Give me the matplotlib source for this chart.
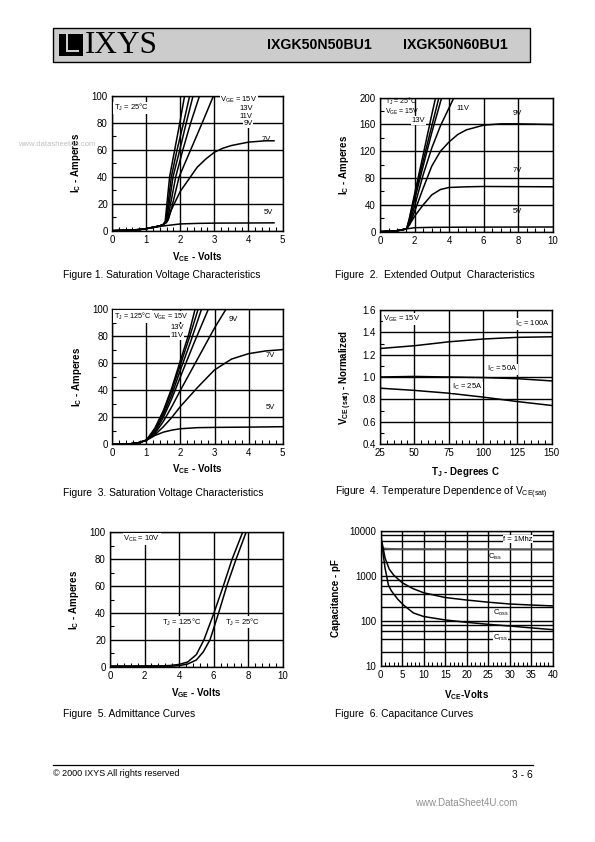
import matplotlib
matplotlib.use("Agg")
import matplotlib.pyplot as plt
from matplotlib.patches import Rectangle
from matplotlib.ticker import MultipleLocator, LogLocator, NullFormatter, FixedLocator
import numpy as np

plt.rcParams['font.family'] = ['Liberation Sans', 'DejaVu Sans']
plt.rcParams['mathtext.fontset'] = 'custom'
plt.rcParams['mathtext.rm'] = 'Liberation Sans'
plt.rcParams['mathtext.bf'] = 'Liberation Sans:bold'
plt.rcParams['mathtext.it'] = 'Liberation Sans:italic'
plt.rcParams['mathtext.default'] = 'regular'

W, H = 595, 842

# ---- Figure 1: saturation voltage, Tj = 25C (x: V_CE, y: I_C) ----
f1_steep = [
    ([0, 0.5, 0.8, 1.0, 1.2, 1.4, 1.5, 1.56, 1.69, 1.84, 1.99, 2.13], [0, 0.3, 0.8, 1.5, 2.5, 3.5, 4.5, 7, 40, 60, 80, 100]),
    ([0, 0.5, 0.8, 1.0, 1.2, 1.4, 1.5, 1.58, 1.74, 1.91, 2.10, 2.28], [0, 0.3, 0.8, 1.5, 2.5, 3.5, 4.5, 7, 40, 60, 80, 100]),
    ([0, 0.5, 0.8, 1.0, 1.2, 1.4, 1.5, 1.60, 1.79, 1.99, 2.18, 2.38], [0, 0.3, 0.8, 1.5, 2.5, 3.5, 4.5, 7, 40, 60, 80, 100]),
    ([0, 0.5, 0.8, 1.0, 1.2, 1.4, 1.5, 1.62, 1.87, 2.08, 2.31, 2.57], [0, 0.3, 0.8, 1.5, 2.5, 3.5, 4.5, 7, 40, 60, 80, 100]),
    ([0, 0.5, 0.8, 1.0, 1.2, 1.4, 1.5, 1.65, 1.75, 1.97, 2.31, 2.65, 2.98], [0, 0.3, 0.8, 1.5, 2.5, 3.5, 4.5, 8, 17, 40, 60, 80, 100]),
]
f1_7v_x = [0, 0.5, 0.8, 1.0, 1.2, 1.4, 1.5, 1.6, 1.75, 2.0, 2.25, 2.5, 2.75, 3.0, 3.25, 3.5, 4.0, 4.5, 4.75]
f1_7v_y = [0, 0.3, 0.8, 1.5, 2.5, 3.5, 4.5, 6, 16, 29, 38, 47, 53, 58, 61, 63, 65.5, 66.5, 66.5]
f1_5v_x = [0, 0.5, 1.0, 1.5, 2.0, 2.5, 3.0, 4.0, 4.75]
f1_5v_y = [0, 0.3, 1.5, 3.5, 5.0, 5.4, 5.6, 5.7, 5.8]

# ---- Figure 2: extended output, Tj = 25C ----
f2_steep = [
    ([0, 0.5, 1.0, 1.5, 1.55, 1.7, 2.0, 2.5, 3.0, 3.22], [0, 0.5, 1.5, 4, 5, 20, 56, 115, 175, 200]),
    ([0, 0.5, 1.0, 1.5, 1.55, 1.7, 2.0, 2.5, 3.0, 3.41], [0, 0.5, 1.5, 4, 5, 18, 52, 106, 158, 200]),
    ([0, 0.5, 1.0, 1.5, 1.57, 1.75, 2.0, 2.5, 3.0, 3.57], [0, 0.5, 1.5, 4, 5, 20, 47, 98, 148, 200]),
    ([0, 0.5, 1.0, 1.5, 1.6, 1.8, 2.0, 2.5, 3.0, 3.5, 4.28], [0, 0.5, 1.5, 4, 6, 20, 38, 85, 125, 158, 200]),
]
f2_9v_x = [0, 0.5, 1.0, 1.5, 1.7, 2.0, 2.5, 3.0, 3.5, 4.0, 4.5, 5.0, 6.0, 7.0, 8.0, 10.0]
f2_9v_y = [0, 0.5, 1.5, 4, 10, 30, 65, 98, 120, 134, 145, 152, 159, 161, 161, 160]
f2_7v_x = [0, 0.5, 1.0, 1.5, 1.7, 2.0, 2.5, 3.0, 3.5, 4.0, 5.0, 6.0, 10.0]
f2_7v_y = [0, 0.5, 1.5, 4, 10, 23, 40, 55, 63, 66, 67, 67.5, 67]
f2_5v_x = [0, 0.5, 1.0, 1.5, 2.0, 3.0, 5.0, 10.0]
f2_5v_y = [0, 0.5, 1.5, 4, 6, 6.5, 6.8, 7]

# ---- Figure 3: saturation voltage, Tj = 125C ----
f3_steep = [
    ([0, 0.5, 0.75, 1.0, 1.25, 1.5, 1.75, 2.0, 2.25, 2.43], [0, 0.3, 1, 3, 12, 25, 42, 62, 82, 100]),
    ([0, 0.5, 0.75, 1.0, 1.25, 1.5, 1.75, 2.0, 2.25, 2.52], [0, 0.3, 1, 3, 11, 24, 40, 59, 78, 100]),
    ([0, 0.5, 0.75, 1.0, 1.25, 1.5, 1.75, 2.0, 2.3, 2.62], [0, 0.3, 1, 3, 10, 22, 37, 55, 76, 100]),
    ([0, 0.5, 0.75, 1.0, 1.25, 1.5, 1.75, 2.0, 2.4, 2.82], [0, 0.3, 1, 3, 9, 20, 34, 50, 75, 100]),
    ([0, 0.5, 0.75, 1.0, 1.25, 1.5, 1.75, 2.0, 2.5, 3.0, 3.34], [0, 0.3, 1, 3, 8, 17, 28, 40, 63, 86, 100]),
]
f3_7v_x = [0, 0.5, 0.75, 1.0, 1.25, 1.5, 1.75, 2.0, 2.5, 3.0, 3.5, 4.0, 4.5, 5.0]
f3_7v_y = [0, 0.3, 1, 3, 7, 13, 20, 28, 42, 55, 63, 67, 69, 70]
f3_5v_x = [0, 0.5, 0.75, 1.0, 1.25, 1.5, 1.75, 2.0, 2.5, 3.0, 4.0, 5.0]
f3_5v_y = [0, 0.3, 1, 3, 6.5, 9, 10.5, 11.5, 12.3, 12.5, 12.7, 13]

# ---- Figure 4: V_CE(sat) normalized vs Tj ----
f4_tj = [25, 50, 75, 100, 125, 150]
f4_100a = [1.255, 1.28, 1.315, 1.34, 1.355, 1.36]
f4_50a = [1.0, 1.005, 1.0, 0.995, 0.985, 0.965]
f4_25a = [0.9, 0.88, 0.855, 0.82, 0.78, 0.745]

# ---- Figure 5: admittance curves ----
f5_125_x = [0, 3.0, 3.5, 4.0, 4.5, 5.0, 5.44, 6.02, 6.56, 7.07, 7.68]
f5_125_y = [0.5, 0.6, 0.9, 1.7, 3.5, 9, 20, 40, 60, 80, 100]
f5_25_x = [0, 3.5, 4.0, 4.5, 5.0, 5.4, 5.79, 6.29, 6.76, 7.3, 7.88]
f5_25_y = [0.3, 0.4, 0.8, 2.0, 5.0, 11, 20, 40, 60, 80, 100]

# ---- Figure 6: capacitance curves ----
f6_ciss_x = [0, 1, 2, 5, 10, 20, 40]
f6_ciss_y = [4300, 4000, 3950, 3900, 3900, 3880, 3850]
f6_coss_x = [0, 0.5, 1, 2, 3, 5, 7.5, 10, 15, 20, 25, 30, 35, 40]
f6_coss_y = [7500, 4500, 2500, 1400, 1040, 700, 520, 420, 330, 290, 260, 237, 225, 215]
f6_crss_x = [0, 0.5, 1, 1.8, 2.5, 4, 5.3, 7.6, 10, 15, 20, 25, 30, 35, 40]
f6_crss_y = [7500, 3500, 1500, 620, 460, 300, 225, 150, 125, 105, 93, 84, 77, 70, 64]

LW = 1.1
SMALL = 5.5


def px_axes(fig, left, top, right, bottom):
    return fig.add_axes([left / W, 1 - bottom / H, (right - left) / W, (bottom - top) / H])


def style(ax, xmaj, xmin, ymaj, ymin, log=False):
    ax.xaxis.set_major_locator(MultipleLocator(xmaj))
    ax.xaxis.set_minor_locator(MultipleLocator(xmin))
    if not log:
        ax.yaxis.set_major_locator(MultipleLocator(ymaj))
        ax.yaxis.set_minor_locator(MultipleLocator(ymin))
    ax.grid(True, which='major', color='black', linewidth=1.0)
    ax.tick_params(which='both', direction='in', labelsize=7)
    ax.tick_params(which='major', length=0, pad=3)
    ax.tick_params(which='minor', length=3, width=0.8)
    for s in ax.spines.values():
        s.set_linewidth(1.0)
    ax.set_axisbelow(True)


def lbl(ax, x, y, s, box=False, size=SMALL, **kw):
    bb = dict(facecolor='white', edgecolor='none', pad=0.4) if box else None
    ax.text(x, y, s, fontsize=size, va='center', ha='left', bbox=bb, **kw)


fig = plt.figure(figsize=(W / 100, H / 100), dpi=100)

# header
fig.patches.append(Rectangle((53 / W, 1 - 62 / H), (530 - 53) / W, 34 / H, transform=fig.transFigure,
                             facecolor='#cccccc', edgecolor='black', linewidth=1.0))
fig.patches.append(Rectangle((59 / W, 1 - 56 / H), 24 / W, 22 / H, transform=fig.transFigure,
                             facecolor='black', edgecolor='none'))
fig.patches.append(Rectangle((66 / W, 1 - 52 / H), 2.2 / W, 18 / H, transform=fig.transFigure,
                             facecolor='#cccccc', edgecolor='none'))
fig.patches.append(Rectangle((66 / W, 1 - 52 / H), 13 / W, 2.2 / H, transform=fig.transFigure,
                             facecolor='#cccccc', edgecolor='none'))
fig.text(85 / W, 1 - 45.5 / H, 'IXYS', family='Liberation Serif', fontsize=22.5, va='center', ha='left')
fig.text(267 / W, 1 - 45 / H, 'IXGK50N50BU1', fontsize=10.2, fontweight='bold', va='center', ha='left')
fig.text(403 / W, 1 - 45 / H, 'IXGK50N60BU1', fontsize=10.2, fontweight='bold', va='center', ha='left')

# watermark
fig.text(18 / W, 1 - 145 / H, 'www.datasheet4u.com', fontsize=5.5, color='#c0c0c0', va='center', ha='left',
         zorder=0)

# ---- chart 1 ----
ax1 = px_axes(fig, 112, 95.5, 282.5, 230.7)
for xs, ys in f1_steep:
    ax1.plot(xs, ys, color='black', lw=LW, clip_on=True)
ax1.plot(f1_7v_x, f1_7v_y, color='black', lw=LW)
ax1.plot(f1_5v_x, f1_5v_y, color='black', lw=LW)
ax1.set_xlim(0, 5)
ax1.set_ylim(0, 100)
style(ax1, 1, 0.2, 20, 10)
ax1.set_ylabel(r'$\mathbf{I_C}$ - Amperes', fontsize=7, fontweight='bold', labelpad=6)
ax1.set_xlabel(r'$\mathbf{V_{CE}}$ - Volts', fontsize=7, fontweight='bold', labelpad=4)
lbl(ax1, 0.05, 91, 'T$_J$ = 25°C', box=True)
lbl(ax1, 3.17, 96.8, 'V$_{GE}$ = 15V', box=True)
lbl(ax1, 3.75, 90.6, '13V', box=True)
lbl(ax1, 3.75, 84.6, '11V', box=True)
lbl(ax1, 3.85, 79.2, '9V', box=True)
lbl(ax1, 4.39, 67.4, '7V')
lbl(ax1, 4.45, 13.3, '5V')

# ---- chart 2 ----
ax2 = px_axes(fig, 380, 97.7, 552.7, 231.7)
for xs, ys in f2_steep:
    ax2.plot(xs, ys, color='black', lw=LW)
ax2.plot(f2_9v_x, f2_9v_y, color='black', lw=LW)
ax2.plot(f2_7v_x, f2_7v_y, color='black', lw=LW)
ax2.plot(f2_5v_x, f2_5v_y, color='black', lw=LW)
ax2.set_xlim(0, 10)
ax2.set_ylim(0, 200)
style(ax2, 2, 0.5, 40, 20)
ax2.set_ylabel(r'$\mathbf{I_C}$ - Amperes', fontsize=7, fontweight='bold', labelpad=6)
lbl(ax2, 0.3, 195, 'T$_J$ = 25°C', size=5)
lbl(ax2, 0.3, 178.5, 'V$_{GE}$ = 15V', size=5)
lbl(ax2, 1.83, 166, '13V', box=True)
lbl(ax2, 4.4, 184, '11V', box=True)
lbl(ax2, 7.7, 177, '9V')
lbl(ax2, 7.7, 92, '7V')
lbl(ax2, 7.7, 30, '5V')

# ---- chart 3 ----
ax3 = px_axes(fig, 112.3, 309, 282.7, 444.3)
for xs, ys in f3_steep:
    ax3.plot(xs, ys, color='black', lw=LW)
ax3.plot(f3_7v_x, f3_7v_y, color='black', lw=LW)
ax3.plot(f3_5v_x, f3_5v_y, color='black', lw=LW)
ax3.set_xlim(0, 5)
ax3.set_ylim(0, 100)
style(ax3, 1, 0.2, 20, 10)
ax3.set_ylabel(r'$\mathbf{I_C}$ - Amperes', fontsize=7, fontweight='bold', labelpad=6)
ax3.set_xlabel(r'$\mathbf{V_{CE}}$ - Volts', fontsize=7, fontweight='bold', labelpad=3)
lbl(ax3, 0.05, 94.5, 'T$_J$ = 125°C', box=True, size=5.2)
lbl(ax3, 1.18, 94.5, 'V$_{GE}$ = 15V', box=True, size=5.2)
lbl(ax3, 1.7, 86, '13V', box=True)
lbl(ax3, 1.7, 80.2, '11V', box=True)
lbl(ax3, 3.4, 92, '9V', box=True)
lbl(ax3, 4.5, 65.5, '7V')
lbl(ax3, 4.5, 27, '5V')

# ---- chart 4 ----
ax4 = px_axes(fig, 380, 310, 551.7, 444)
ax4.plot(f4_tj, f4_100a, color='black', lw=LW)
ax4.plot(f4_tj, f4_50a, color='black', lw=LW)
ax4.plot(f4_tj, f4_25a, color='black', lw=LW)
ax4.set_xlim(25, 150)
ax4.set_ylim(0.4, 1.6)
style(ax4, 25, 5, 0.2, 0.1)
ax4.yaxis.set_major_formatter(matplotlib.ticker.FormatStrFormatter('%.1f'))
ax4.set_ylabel(r'$\mathbf{V_{CE\ (sat)}}$ - Normalized', fontsize=7, fontweight='bold', labelpad=6)
ax4.set_xlabel(r'$\mathbf{T_J}$ - Degrees C', fontsize=7, fontweight='bold', labelpad=5)
lbl(ax4, 27.4, 1.52, 'V$_{GE}$ = 15V', box=True)
lbl(ax4, 123.3, 1.475, 'I$_C$ = 100A', box=True)
lbl(ax4, 102.7, 1.07, 'I$_C$ = 50A', box=True)
lbl(ax4, 77.2, 0.907, 'I$_C$ = 25A', box=True)

# ---- chart 5 ----
ax5 = px_axes(fig, 110, 532.3, 282.7, 666.7)
ax5.plot(f5_125_x, f5_125_y, color='black', lw=LW)
ax5.plot(f5_25_x, f5_25_y, color='black', lw=LW)
ax5.set_xlim(0, 10)
ax5.set_ylim(0, 100)
style(ax5, 2, 0.4, 20, 10)
ax5.set_ylabel(r'$\mathbf{I_C}$ - Amperes', fontsize=7, fontweight='bold', labelpad=6)
ax5.set_xlabel(r'$\mathbf{V_{GE}}$ - Volts', fontsize=7, fontweight='bold', labelpad=4)
lbl(ax5, 0.77, 95, 'V$_{CE}$ = 10V', box=True)
lbl(ax5, 3.0, 33, 'T$_J$ = 125°C', box=True)
lbl(ax5, 6.66, 33, 'T$_J$ = 25°C', box=True)

# ---- chart 6 ----
ax6 = px_axes(fig, 380.7, 530.7, 552.7, 666)
ax6.set_yscale('log')
ax6.plot(f6_ciss_x, f6_ciss_y, color='#555555', lw=1.4)
ax6.plot(f6_coss_x, f6_coss_y, color='black', lw=LW)
ax6.plot(f6_crss_x, f6_crss_y, color='black', lw=LW)
ax6.set_xlim(0, 40)
ax6.set_ylim(10, 10000)
style(ax6, 5, 1, None, None, log=True)
ax6.yaxis.set_major_locator(FixedLocator([10, 100, 1000, 10000]))
ax6.yaxis.set_major_formatter(matplotlib.ticker.FuncFormatter(lambda v, p: '%d' % v))
ax6.yaxis.set_minor_locator(LogLocator(base=10, subs=[2, 4, 6, 8]))
ax6.yaxis.set_minor_formatter(NullFormatter())
ax6.grid(True, which='minor', axis='y', color='black', linewidth=1.0)
ax6.tick_params(axis='y', which='minor', length=0)
ax6.set_ylabel('Capacitance - pF', fontsize=7, fontweight='bold', labelpad=6)
ax6.set_xlabel(r'$\mathbf{V_{CE}}$-Volts', fontsize=7, fontweight='bold', labelpad=6)
lbl(ax6, 28.5, 6500, 'f = 1Mhz', box=True)
lbl(ax6, 25.0, 2570, 'C$_{iss}$')
lbl(ax6, 26.2, 147, 'C$_{oss}$')
lbl(ax6, 26.2, 42.5, 'C$_{rss}$', box=True)

# captions
caps = [
    (63, 275, 'Figure 1. Saturation Voltage Characteristics'),
    (335, 275, 'Figure  2.  Extended Output  Characteristics'),
    (63, 493, 'Figure  3. Saturation Voltage Characteristics'),
    (335, 493, 'Figure  4. Temperature Dependence of V$_{CE(sat)}$'),
    (63, 714, 'Figure  5. Admittance Curves'),
    (335, 714, 'Figure  6. Capacitance Curves'),
]
for x, y, s in caps:
    fig.text(x / W, 1 - y / H, s, fontsize=7.4, va='center', ha='left')

# footer
fig.add_artist(plt.Line2D([53 / W, 533 / W], [1 - 765 / H, 1 - 765 / H], color='black', lw=0.9,
                          transform=fig.transFigure))
fig.text(53 / W, 1 - 773 / H, '© 2000 IXYS All rights reserved', fontsize=6.5, va='center', ha='left')
fig.text(533 / W, 1 - 775 / H, '3 - 6', fontsize=7.5, va='center', ha='right')
fig.text(517 / W, 1 - 803 / H, 'www.DataSheet4U.com', fontsize=7, color='#909090', va='center', ha='right')

fig.savefig('out.png', dpi=100)
